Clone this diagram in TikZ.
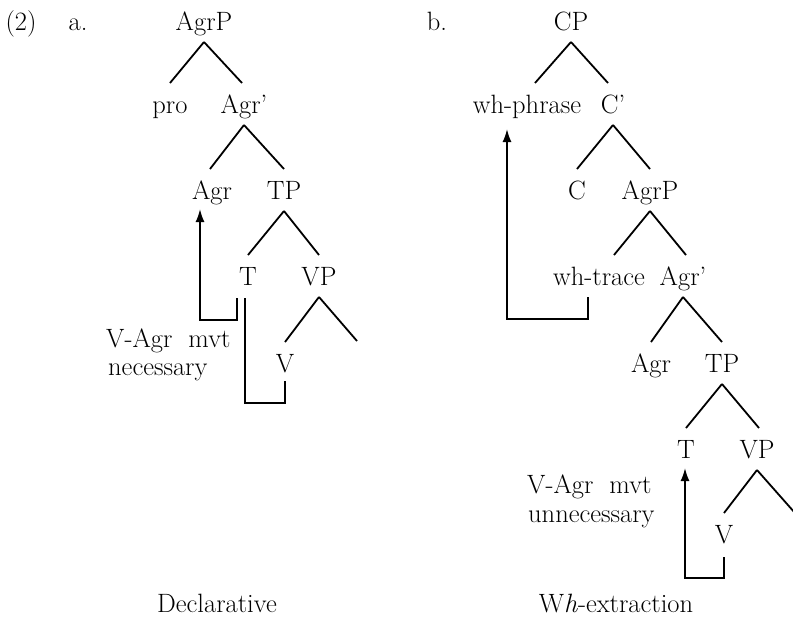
\documentclass[tikz,border=0pt]{standalone}
\usetikzlibrary{arrows.meta}
\begin{document}
\begin{tikzpicture}[x=1pt,y=-1pt,
  every node/.style={inner sep=0pt, font=\fontsize{26.5}{30}\selectfont},
  cat/.style={anchor=base},
  note/.style={anchor=base west},
  branch/.style={line width=1.8pt},
  trace/.style={line width=1.8pt},
  move/.style={line width=1.8pt, -{Latex[length=13pt,width=9pt]}}]
\useasboundingbox (0,0) rectangle (793,619);
% parent-to-daughter line of a tree; optional argument shifts the lower end sideways
\newcommand\treeedge[3][0]{\draw[branch] ([shift={(0,12)}]#2.base) -- ([shift={(#1,-30)}]#3.base);}

% example number and sub-labels
\node[cat] (num) at (21,30) {(2)};
\node[cat] (lba) at (78,30) {a.};
\node[cat] (lbb) at (437,30) {b.};

% ---------- (a) declarative ----------
\node[cat] (aAgrP) at (204,30) {AgrP};
\node[cat] (apro)  at (170,113) {pro};
\node[cat] (aAgrb) at (244,113) {Agr'};
\node[cat] (aAgr)  at (212,199) {Agr};
\node[cat] (aTP)   at (284,199) {TP};
\node[cat] (aT)    at (248,285) {T};
\node[cat] (aVP)   at (319,285) {VP};
\node[cat] (aV)    at (285,372) {V};
\coordinate (aVPr) at (357,371);

\treeedge{aAgrP}{apro}
\treeedge[-2]{aAgrP}{aAgrb}
\treeedge[-2]{aAgrb}{aAgr}
\treeedge{aAgrb}{aTP}
\treeedge{aTP}{aT}
\treeedge{aTP}{aVP}
\treeedge{aVP}{aV}
\treeedge{aVP}{aVPr}

\draw[move] ([shift={(-11,13)}]aT.base) -- ++(0,22) -| ([shift={(-12,10)}]aAgr.base);
\draw[trace] ([shift={(-3,13)}]aT.base) |- ([shift={(0,31)}]aV.base) -- ([shift={(0,9)}]aV.base);

\node[note] (anote1) at (106,347) {V-Agr\ \ mvt};
\node[note] (anote2) at (108,375) {necessary};
\node[cat] (acap) at (217,612) {Declarative};

% ---------- (b) wh-extraction ----------
\node[cat] (bCP)   at (571,30) {CP};
\node[cat] (bwh)   at (527,113) {wh-phrase};
\node[cat] (bCb)   at (613,113) {C'};
\node[cat] (bC)    at (577,199) {C};
\node[cat] (bAgrP) at (650,199) {AgrP};
\node[cat] (btr)   at (599,285) {wh-trace};
\node[cat] (bAgrb) at (683,285) {Agr'};
\node[cat] (bAgr)  at (651,372) {Agr};
\node[cat] (bTP)   at (722,372) {TP};
\node[cat] (bT)    at (686,458) {T};
\node[cat] (bVP)   at (757,458) {VP};
\node[cat] (bV)    at (724,543) {V};
\coordinate (bVPr) at (795,543);

\treeedge[8]{bCP}{bwh}
\treeedge[-5]{bCP}{bCb}
\treeedge{bCb}{bC}
\treeedge{bCb}{bAgrP}
\treeedge[15]{bAgrP}{btr}
\treeedge[3]{bAgrP}{bAgrb}
\treeedge{bAgrb}{bAgr}
\treeedge{bAgrb}{bTP}
\treeedge{bTP}{bT}
\treeedge[2]{bTP}{bVP}
\treeedge{bVP}{bV}
\treeedge{bVP}{bVPr}

\draw[move] ([shift={(-11,12)}]btr.base) -- ++(0,22) -| ([shift={(-20,16)}]bwh.base);
\draw[move] ([shift={(0,14)}]bV.base) -- ++(0,21) -| ([shift={(-1,10)}]bT.base);

\node[note] (bnote1) at (527,493) {V-Agr\ \ mvt};
\node[note] (bnote2) at (528,522) {unnecessary};
\node[cat] (bcap) at (616,612) {W\textit{h}-extraction};
\end{tikzpicture}
\end{document}
